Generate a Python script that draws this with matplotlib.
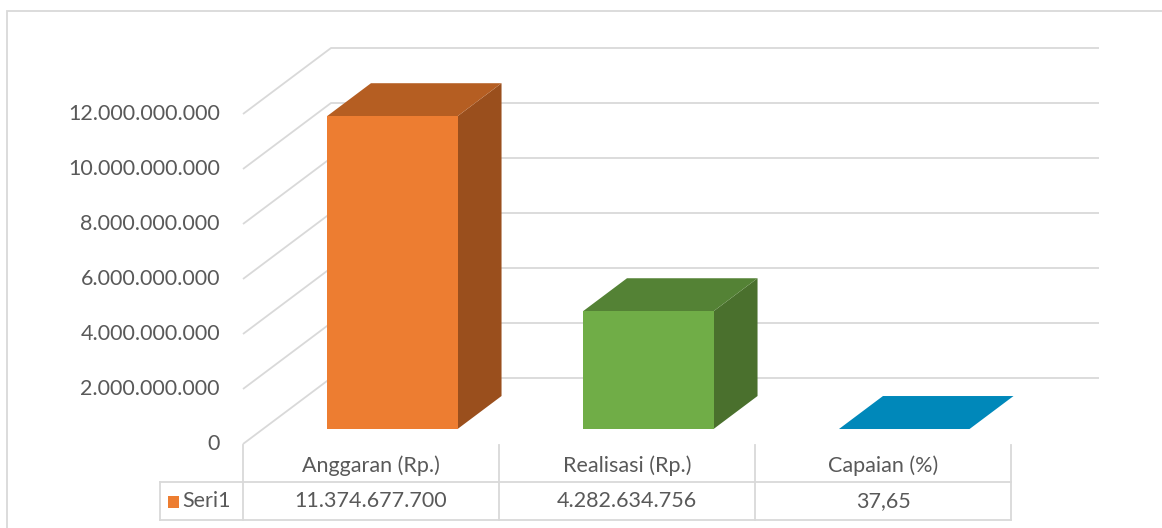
import numpy as np
import matplotlib.pyplot as plt
from matplotlib.patches import Polygon, Rectangle

plt.rcParams['font.family'] = ['Lato', 'DejaVu Sans']

# data
categories = ["Anggaran (Rp.)", "Realisasi (Rp.)", "Capaian (%)"]
values = [11374677700, 4282634756, 37.65]
value_labels = ["11.374.677.700", "4.282.634.756", "37,65"]
series_name = "Seri1"
yticks = [0, 2e9, 4e9, 6e9, 8e9, 10e9, 12e9]
ytick_labels = ["0", "2.000.000.000", "4.000.000.000", "6.000.000.000",
                "8.000.000.000", "10.000.000.000", "12.000.000.000"]

# face colours per bar: front, top, side
front_cols = ["#ED7D31", "#70AD47", "#0088BA"]
top_cols = ["#B55E22", "#548235", "#0088BA"]
side_cols = ["#9A4F1D", "#4A702D", "#006A91"]

GRID = "#D9D9D9"
TXT = "#595959"
FS = 15.5

# oblique "3d" projection: shift for full floor depth, in data units
DX = 88 / 256
DY = 2.4e9
d0, d1 = 0.227, 0.727     # bar depth range
w0, w1 = 0.25, 0.76       # bar width range inside a category


def P(x, v, d):
    return (x + DX * d, v + DY * d)


fig = plt.figure(figsize=(11.62, 5.28), dpi=100)
ax = fig.add_axes([0, 0, 1, 1])
ax.set_xlim(-243 / 256, (1162 - 243) / 256)
ax.set_ylim(-84 / 27.5 * 1e9, (528 - 84) / 27.5 * 1e9)
ax.axis('off')

fig.patches.append(Rectangle((7 / 1162, -0.05), 1.2, (528 - 11) / 528 + 0.05,
                             transform=fig.transFigure, fill=False,
                             edgecolor=GRID, lw=1.3))

# walls / gridlines
ncat = len(categories)
for v, lab in zip(yticks, ytick_labels):
    a, b = P(0, v, 0), P(0, v, 1)
    c = P(ncat, v, 1)
    ax.plot([a[0], b[0], c[0]], [a[1], b[1], c[1]], color=GRID, lw=1.3,
            zorder=1, solid_capstyle='butt')
    ax.text(-0.09, v, lab, ha='right', va='center', fontsize=FS, color=TXT)

# bars
for i, val in enumerate(values):
    x0, x1 = i + w0, i + w1
    front = [P(x0, 0, d0), P(x1, 0, d0), P(x1, val, d0), P(x0, val, d0)]
    top = [P(x0, val, d0), P(x1, val, d0), P(x1, val, d1), P(x0, val, d1)]
    side = [P(x1, 0, d0), P(x1, 0, d1), P(x1, val, d1), P(x1, val, d0)]
    ax.add_patch(Polygon(side, closed=True, fc=side_cols[i], ec='none', zorder=3))
    ax.add_patch(Polygon(top, closed=True, fc=top_cols[i], ec='none', zorder=3))
    ax.add_patch(Polygon(front, closed=True, fc=front_cols[i], ec='none', zorder=4))

# data table
def py(p):
    return (528 - p - 84) / 27.5 * 1e9

t_top, t_mid, t_bot = py(445), py(482), py(520)
t_left = (160 - 243) / 256
for i in range(ncat + 1):
    ax.plot([i, i], [t_top, t_bot], color=GRID, lw=1.3, zorder=1)
for yy in (t_mid, t_bot):
    ax.plot([t_left, ncat], [yy, yy], color=GRID, lw=1.3, zorder=1)
ax.plot([t_left, t_left], [t_mid, t_bot], color=GRID, lw=1.3, zorder=1)

for i, (cat, lab) in enumerate(zip(categories, value_labels)):
    ax.text(i + 0.5, py(466), cat, ha='center', va='center', fontsize=FS, color=TXT)
    ax.text(i + 0.5, py(501), lab, ha='center', va='center', fontsize=FS, color=TXT)

ax.add_patch(Rectangle(((168 - 243) / 256, py(508)), 11 / 256, py(496) - py(508),
                       fc=front_cols[0], ec='none'))
ax.text((182 - 243) / 256, py(501), series_name, ha='left', va='center',
        fontsize=FS, color=TXT)

fig.savefig("out.png", dpi=100)
